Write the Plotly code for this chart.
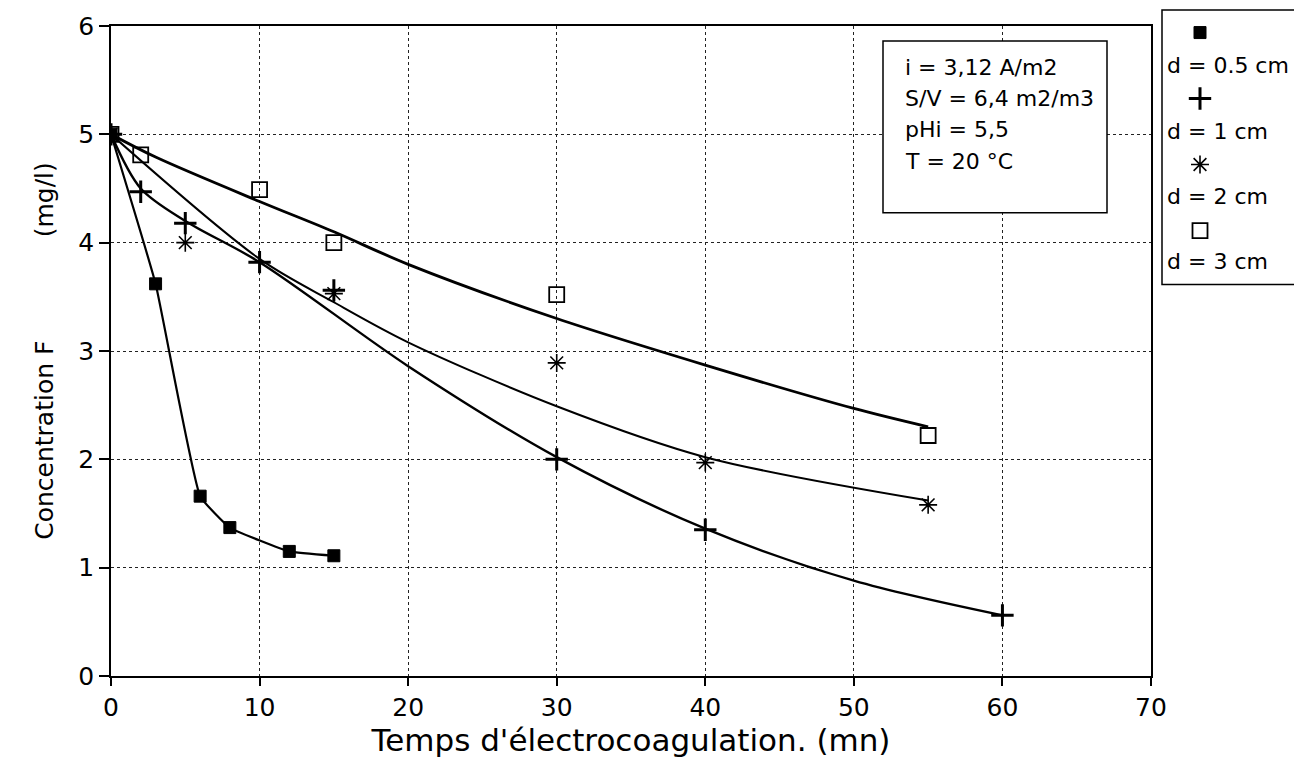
import plotly.graph_objects as go

# ---- data ----
t_05 = [0, 3, 6, 8, 12, 15]
c_05 = [5.0, 3.62, 1.66, 1.37, 1.15, 1.11]

t_1 = [0, 2, 5, 10, 15, 30, 40, 60]
c_1 = [5.0, 4.47, 4.18, 3.82, 3.56, 2.0, 1.35, 0.56]

t_2 = [0, 5, 15, 30, 40, 55]
c_2 = [5.0, 4.0, 3.53, 2.89, 1.97, 1.58]

t_3 = [0, 2, 10, 15, 30, 55]
c_3 = [5.0, 4.81, 4.49, 4.0, 3.52, 2.22]

# fitted curves as drawn in the figure
fit1_t = [0, 2, 5, 10, 20, 30, 40, 50, 60]
fit1_c = [5.0, 4.5, 4.2, 3.82, 2.86, 2.02, 1.36, 0.88, 0.56]
fit2_t = [0, 10, 15, 20, 30, 40, 55]
fit2_c = [5.0, 3.85, 3.45, 3.08, 2.49, 2.02, 1.62]
fit3_t = [0, 3, 10, 15, 20, 30, 40, 50, 55]
fit3_c = [5.0, 4.79, 4.38, 4.1, 3.8, 3.3, 2.87, 2.47, 2.3]

labels = ["d = 0.5 cm", "d = 1 cm", "d = 2 cm", "d = 3 cm"]
x_ticks = [0, 10, 20, 30, 40, 50, 60, 70]
y_ticks = [0, 1, 2, 3, 4, 5, 6]
info_lines = ["i = 3,12 A/m2", "S/V = 6,4 m2/m3", "pHi = 5,5", "T = 20 °C"]

# ---- layout geometry ----
W, H = 1294, 771
ML, MR, MT, MB = 111, 143, 22, 95
PW, PH = W - ML - MR, H - MT - MB
FONT = "DejaVu Sans"


def px(xp):
    return (xp - ML) / PW


def py(yp):
    return (H - MB - yp) / PH


fig = go.Figure()

# curves
fig.add_trace(go.Scatter(x=t_05, y=c_05, mode="lines", line=dict(color="black", width=2.2, shape="spline", smoothing=0.35), showlegend=False, hoverinfo="skip"))
fig.add_trace(go.Scatter(x=fit1_t, y=fit1_c, mode="lines", line=dict(color="black", width=2.4, shape="spline", smoothing=0.9), showlegend=False, hoverinfo="skip"))
fig.add_trace(go.Scatter(x=fit2_t, y=fit2_c, mode="lines", line=dict(color="black", width=2.0, shape="spline", smoothing=0.9), showlegend=False, hoverinfo="skip"))
fig.add_trace(go.Scatter(x=fit3_t, y=fit3_c, mode="lines", line=dict(color="black", width=2.8, shape="spline", smoothing=0.9), showlegend=False, hoverinfo="skip"))

# markers
fig.add_trace(go.Scatter(x=t_3, y=c_3, mode="markers", name=labels[3],
                         marker=dict(symbol="square-open", size=15, color="black", line=dict(width=1.8, color="black")), legendgroup="d", legendrank=4))
fig.add_trace(go.Scatter(x=t_2, y=c_2, mode="markers", name=labels[2],
                         marker=dict(symbol="asterisk-open", size=15, color="black", line=dict(width=1.6, color="black")), legendgroup="c", legendrank=3))
fig.add_trace(go.Scatter(x=t_1, y=c_1, mode="markers", name=labels[1],
                         marker=dict(symbol="cross-thin-open", size=16, color="black", line=dict(width=3, color="black")), legendgroup="b", legendrank=2))
fig.add_trace(go.Scatter(x=t_05, y=c_05, mode="markers", name=labels[0],
                         marker=dict(symbol="square", size=12, color="black", line=dict(width=1, color="black")), legendgroup="a", legendrank=1))

axis_common = dict(
    showline=True, linecolor="black", linewidth=1.6, mirror=True,
    showgrid=True, gridcolor="#222", gridwidth=1, griddash="dot",
    ticks="outside", tickcolor="black", tickwidth=1.5,
    zeroline=False, tickfont=dict(family=FONT, size=25, color="black"),
)

fig.update_layout(
    width=W, height=H,
    margin=dict(l=ML, r=MR, t=MT, b=MB),
    paper_bgcolor="white", plot_bgcolor="white",
    font=dict(family=FONT, color="black"),
    xaxis=dict(range=[0, 70], tickvals=x_ticks, ticklen=8,
               title=dict(text="Temps d'électrocoagulation. (mn)", font=dict(family=FONT, size=31), standoff=8),
               **axis_common),
    yaxis=dict(range=[0, 6], tickvals=y_ticks, ticklen=10,
               title=dict(text="Concentration F" + "\u00a0" * 13 + "(mg/l)", font=dict(family=FONT, size=25), standoff=18),
               **axis_common),
    legend=dict(x=px(1180), y=py(14), xanchor="left", yanchor="top",
                bgcolor="rgba(0,0,0,0)", borderwidth=0,
                font=dict(family=FONT, size=1, color="rgba(0,0,0,0)"),
                tracegroupgap=47, itemwidth=30),
    showlegend=True,
)

# info box
fig.add_shape(type="rect", xref="paper", yref="paper", x0=px(883), x1=px(1107), y0=py(210), y1=py(37),
              line=dict(color="black", width=1.5), fillcolor="white", layer="above")
for i, line in enumerate(info_lines):
    fig.add_annotation(xref="paper", yref="paper", x=px(903), y=py(64 + 31.3 * i), xanchor="left", yanchor="middle",
                       text=line, showarrow=False, font=dict(family=FONT, size=22, color="black"))

# legend box and labels
fig.add_shape(type="rect", xref="paper", yref="paper", x0=px(1162), x1=px(1310), y0=py(282), y1=py(6),
              line=dict(color="black", width=1.5), fillcolor="rgba(0,0,0,0)", layer="above")
for i, lab in enumerate(labels):
    fig.add_annotation(xref="paper", yref="paper", x=px(1165), y=py(62 + 65.7 * i), xanchor="left", yanchor="middle",
                       text=lab, showarrow=False, font=dict(family=FONT, size=22, color="black"))

fig.write_html("out.html")
